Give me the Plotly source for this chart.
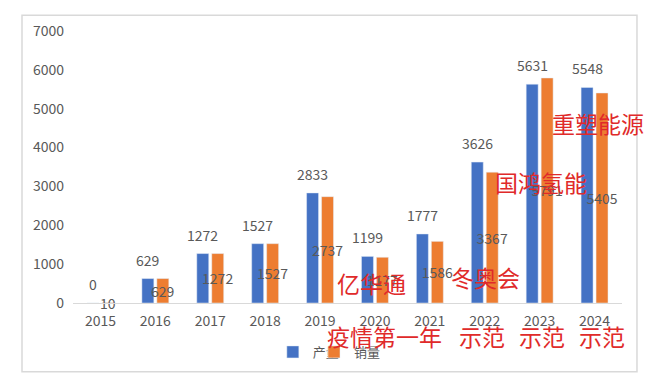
import plotly.graph_objects as go

years = ["2015", "2016", "2017", "2018", "2019", "2020", "2021", "2022", "2023", "2024"]
production = [0, 629, 1272, 1527, 2833, 1199, 1777, 3626, 5631, 5548]
sales = [10, 629, 1272, 1527, 2737, 1177, 1586, 3367, 5791, 5405]

notes = [
    ("亿华通", 0.5446, 0.0722),
    ("冬奥会", 0.7505, 0.0939),
    ("疫情第一年", 0.5683, -0.1227),
    ("示范", 0.745, -0.1227),
    ("示范", 0.854, -0.1227),
    ("示范", 0.9636, -0.1227),
    ("国鸿氢能", 0.8525, 0.444),
    ("重塑能源", 0.9563, 0.6606),
]

FONT = "Noto Sans CJK SC, Noto Sans, sans-serif"
GRAY = "#595959"

fig = go.Figure()
fig.add_trace(go.Bar(
    name="产量", x=years, y=production, marker_color="#4472C4", legend="legend",
))
fig.add_trace(go.Bar(
    name="销量", x=years, y=sales, marker_color="#ED7D31", legend="legend2",
    text=sales, textposition="inside", insidetextanchor="middle", constraintext="none",
    textangle=0,
    insidetextfont=dict(color=GRAY, size=14, family=FONT), cliponaxis=False,
))

# value labels above the production bars (category index on the category axis)
for i, v in enumerate(production):
    fig.add_annotation(text=str(v), x=i, y=v, xref="x", yref="y",
                       xanchor="center", yanchor="bottom", xshift=-7.5, yshift=7,
                       showarrow=False, font=dict(color=GRAY, size=14, family=FONT))

for txt, xp, yp in notes:
    fig.add_annotation(text=txt, x=xp, y=yp, xref="paper", yref="paper",
                       xanchor="center", yanchor="middle", showarrow=False,
                       font=dict(color="#E02A2A", size=23, family=FONT))

fig.add_shape(type="rect", xref="paper", yref="paper",
              x0=-0.0929, x1=1.0273, y0=-0.2527, y1=1.0578,
              line=dict(color="#D9D9D9", width=1.5), fillcolor="rgba(0,0,0,0)", layer="below")

legend_style = dict(orientation="h", y=-0.18, yanchor="middle", xanchor="left",
                    itemwidth=30, font=dict(size=13, color=GRAY, family=FONT),
                    bgcolor="rgba(0,0,0,0)")

fig.update_layout(
    width=660, height=391,
    margin=dict(l=65, r=46, t=18, b=96),
    paper_bgcolor="white", plot_bgcolor="white",
    barmode="group", bargap=0.455, bargroupgap=0.2,
    font=dict(family=FONT, color=GRAY, size=14),
    showlegend=True,
    legend=dict(x=0.364, **legend_style),
    legend2=dict(x=0.439, **legend_style),
    xaxis=dict(type="category", range=[-0.5, 9.5], showline=True, linecolor="#D9D9D9",
               linewidth=1, ticks="", showgrid=False,
               tickfont=dict(size=14, color=GRAY), ticklabelstandoff=5),
    yaxis=dict(range=[0, 7000], dtick=1000, showgrid=False, zeroline=False,
               showline=False, ticks="", tickfont=dict(size=14, color=GRAY),
               ticklabelstandoff=8),
)

fig.write_html("out.html")
